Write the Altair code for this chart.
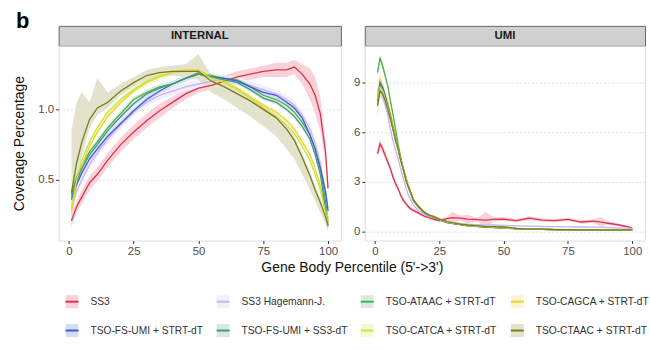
import altair as alt
import pandas as pd

FONT = "Liberation Sans"

SERIES = ["SS3", "SS3 Hagemann-J.", "TSO-ATAAC + STRT-dT", "TSO-CAGCA + STRT-dT",
          "TSO-FS-UMI + STRT-dT", "TSO-FS-UMI + SS3-dT", "TSO-CATCA + STRT-dT",
          "TSO-CTAAC + STRT-dT"]
COLORS = ["#e0314f", "#c9b3f5", "#4cae4c", "#f3d02a",
          "#3d5ed8", "#4a9488", "#c3e83a", "#7f7a1c"]
RIBBON_ALPHA = 0.22
PANEL_LETTER = "b"

X_TICKS = [0, 25, 50, 75, 100]
INT_Y_TICKS = [0.5, 1.0]
UMI_Y_TICKS = [0, 3, 6, 9]

# ---------------- INTERNAL panel ----------------
INT_X = [1, 3, 5, 8, 11, 15, 20, 25, 30, 35, 40, 45, 50, 55, 60, 65, 70, 75, 80, 84, 87, 90, 93, 95, 97, 99, 100]
INT_SS3 = [0.21, 0.31, 0.38, 0.48, 0.54, 0.64, 0.75, 0.84, 0.92, 0.99, 1.05, 1.11, 1.15, 1.17, 1.20, 1.23, 1.25, 1.27, 1.28, 1.28, 1.30, 1.25, 1.18, 1.10, 0.97, 0.70, 0.44]
INT_HAG = [0.30, 0.42, 0.50, 0.61, 0.69, 0.79, 0.89, 0.98, 1.05, 1.10, 1.13, 1.16, 1.18, 1.20, 1.21, 1.20, 1.17, 1.14, 1.11, 1.07, 1.03, 0.96, 0.86, 0.76, 0.62, 0.42, 0.30]
INT_ATAAC = [0.40, 0.52, 0.60, 0.70, 0.77, 0.87, 0.97, 1.07, 1.12, 1.16, 1.18, 1.22, 1.26, 1.24, 1.22, 1.21, 1.16, 1.10, 1.07, 1.03, 0.98, 0.91, 0.82, 0.72, 0.59, 0.35, 0.20]
INT_CAGCA = [0.27, 0.47, 0.60, 0.74, 0.84, 0.95, 1.05, 1.13, 1.19, 1.23, 1.26, 1.28, 1.28, 1.23, 1.20, 1.15, 1.09, 1.03, 0.98, 0.92, 0.86, 0.77, 0.68, 0.58, 0.46, 0.30, 0.23]
INT_FSSTRT = [0.36, 0.47, 0.55, 0.65, 0.72, 0.81, 0.90, 0.99, 1.07, 1.13, 1.18, 1.22, 1.25, 1.23, 1.22, 1.20, 1.16, 1.12, 1.10, 1.05, 1.01, 0.94, 0.82, 0.72, 0.58, 0.42, 0.28]
INT_FSSS3 = [0.38, 0.50, 0.58, 0.68, 0.75, 0.85, 0.95, 1.04, 1.11, 1.15, 1.18, 1.22, 1.25, 1.23, 1.21, 1.19, 1.14, 1.08, 1.05, 1.00, 0.95, 0.88, 0.79, 0.68, 0.54, 0.30, 0.17]
INT_CATCA = [0.30, 0.50, 0.64, 0.77, 0.87, 0.98, 1.07, 1.14, 1.20, 1.24, 1.26, 1.27, 1.27, 1.22, 1.19, 1.14, 1.08, 1.01, 0.95, 0.89, 0.83, 0.74, 0.64, 0.54, 0.43, 0.27, 0.20]
INT_CTAAC = [0.41, 0.62, 0.77, 0.93, 1.01, 1.05, 1.13, 1.19, 1.24, 1.26, 1.27, 1.27, 1.27, 1.20, 1.16, 1.11, 1.06, 1.00, 0.94, 0.86, 0.78, 0.66, 0.53, 0.43, 0.34, 0.24, 0.18]

INT_SD_SS3 = [0.04, 0.04, 0.05, 0.05, 0.05, 0.05, 0.05, 0.05, 0.05, 0.05, 0.04, 0.04, 0.03, 0.03, 0.04, 0.04, 0.04, 0.04, 0.05, 0.05, 0.05, 0.07, 0.11, 0.13, 0.12, 0.08, 0.05]
INT_SD_HAG = [0.02, 0.03, 0.03, 0.03, 0.03, 0.03, 0.03, 0.03, 0.03, 0.03, 0.03, 0.03, 0.03, 0.03, 0.03, 0.03, 0.03, 0.03, 0.03, 0.03, 0.03, 0.03, 0.03, 0.03, 0.03, 0.02, 0.02]
INT_SD_THIN = [0.02, 0.02, 0.02, 0.02, 0.02, 0.02, 0.02, 0.02, 0.02, 0.02, 0.02, 0.02, 0.02, 0.015, 0.015, 0.015, 0.015, 0.015, 0.015, 0.015, 0.015, 0.015, 0.015, 0.015, 0.015, 0.015, 0.015]
INT_LO_CTAAC = [0.25, 0.15, 0.10, 0.06, 0.05, 0.04, 0.03, 0.03, 0.03, 0.03, 0.03, 0.04, 0.06, 0.08, 0.09, 0.10, 0.11, 0.12, 0.13, 0.14, 0.13, 0.12, 0.10, 0.08, 0.07, 0.05, 0.05]
INT_HI_CTAAC = [0.44, 0.43, 0.35, 0.12, 0.21, 0.07, 0.05, 0.04, 0.04, 0.04, 0.04, 0.05, 0.12, 0.04, 0.03, 0.03, 0.03, 0.03, 0.03, 0.03, 0.03, 0.03, 0.03, 0.03, 0.03, 0.03, 0.03]

# ---------------- UMI panel ----------------
UMI_X = [1, 2, 3, 4, 5, 6, 7, 8, 9, 10, 11, 12, 13, 14, 15, 17, 19, 21, 23, 25, 28, 30, 33, 36, 40, 43, 46, 50, 55, 60, 65, 70, 75, 80, 85, 88, 90, 95, 100]
UMI_SS3 = [4.7, 5.3, 5.0, 4.6, 4.2, 3.8, 3.3, 2.9, 2.6, 2.2, 1.9, 1.7, 1.5, 1.36, 1.28, 1.12, 0.95, 0.84, 0.74, 0.66, 0.78, 0.85, 0.82, 0.76, 0.72, 0.70, 0.74, 0.76, 0.66, 0.82, 0.70, 0.66, 0.74, 0.58, 0.64, 0.58, 0.52, 0.40, 0.22]
UMI_HAG = [7.6, 8.6, 8.2, 7.6, 7.0, 6.2, 5.5, 4.9, 4.4, 3.8, 3.2, 2.7, 2.2, 1.9, 1.6, 1.25, 1.05, 0.92, 0.85, 0.75, 0.62, 0.55, 0.50, 0.45, 0.42, 0.40, 0.40, 0.38, 0.35, 0.33, 0.31, 0.30, 0.29, 0.28, 0.27, 0.26, 0.25, 0.23, 0.20]
UMI_ATAAC = [9.6, 10.5, 10.0, 9.4, 8.8, 7.9, 7.1, 6.2, 5.3, 4.5, 3.8, 3.3, 2.8, 2.3, 1.85, 1.45, 1.15, 1.0, 0.85, 0.72, 0.56, 0.50, 0.44, 0.36, 0.32, 0.30, 0.26, 0.22, 0.18, 0.15, 0.13, 0.12, 0.11, 0.10, 0.10, 0.10, 0.10, 0.10, 0.12]
UMI_CAGCA = [8.3, 9.2, 8.8, 8.3, 7.8, 7.2, 6.5, 5.8, 5.1, 4.4, 3.8, 3.3, 2.8, 2.3, 1.9, 1.5, 1.15, 1.0, 0.88, 0.74, 0.58, 0.52, 0.45, 0.38, 0.33, 0.30, 0.27, 0.24, 0.19, 0.16, 0.14, 0.13, 0.12, 0.11, 0.10, 0.10, 0.10, 0.10, 0.11]
UMI_FSSTRT = [8.0, 9.0, 8.7, 8.2, 7.6, 7.0, 6.3, 5.7, 5.0, 4.4, 3.8, 3.2, 2.7, 2.3, 1.9, 1.5, 1.15, 1.0, 0.86, 0.72, 0.56, 0.50, 0.44, 0.36, 0.32, 0.29, 0.26, 0.22, 0.18, 0.15, 0.13, 0.12, 0.11, 0.10, 0.10, 0.10, 0.10, 0.10, 0.11]
UMI_FSSS3 = [7.9, 8.8, 8.5, 8.0, 7.5, 6.9, 6.2, 5.6, 5.0, 4.4, 3.8, 3.2, 2.7, 2.3, 1.9, 1.5, 1.15, 1.0, 0.86, 0.72, 0.55, 0.50, 0.43, 0.35, 0.31, 0.28, 0.25, 0.21, 0.17, 0.14, 0.13, 0.12, 0.11, 0.10, 0.10, 0.10, 0.10, 0.10, 0.11]
UMI_CATCA = [8.0, 8.7, 8.5, 8.0, 7.5, 6.9, 6.3, 5.6, 5.0, 4.4, 3.8, 3.2, 2.8, 2.3, 1.9, 1.5, 1.2, 1.0, 0.88, 0.74, 0.57, 0.52, 0.45, 0.37, 0.32, 0.30, 0.27, 0.23, 0.18, 0.15, 0.14, 0.12, 0.11, 0.10, 0.10, 0.10, 0.10, 0.10, 0.11]
UMI_CTAAC = [7.6, 8.5, 8.3, 7.9, 7.4, 6.8, 6.2, 5.5, 5.0, 4.3, 3.8, 3.1, 2.7, 2.3, 1.9, 1.5, 1.2, 1.0, 0.9, 0.75, 0.60, 0.55, 0.45, 0.40, 0.35, 0.30, 0.30, 0.28, 0.20, 0.15, 0.15, 0.12, 0.12, 0.10, 0.10, 0.10, 0.10, 0.10, 0.10]

UMI_SD_SS3 = [0.25, 0.3, 0.25, 0.2, 0.2, 0.2, 0.2, 0.2, 0.15, 0.15, 0.15, 0.12, 0.12, 0.1, 0.1, 0.1, 0.1, 0.1, 0.1, 0.1, 0.12, 0.35, 0.15, 0.25, 0.12, 0.5, 0.15, 0.12, 0.1, 0.12, 0.1, 0.1, 0.1, 0.1, 0.1, 0.3, 0.1, 0.08, 0.06]
UMI_SD_CTAAC = [0.6, 0.4, 0.35, 0.3, 0.25, 0.2, 0.2, 0.2, 0.2, 0.2, 0.15, 0.15, 0.12, 0.1, 0.1, 0.1, 0.08, 0.08, 0.08, 0.08, 0.06, 0.06, 0.06, 0.06, 0.06, 0.06, 0.06, 0.06, 0.05, 0.05, 0.05, 0.05, 0.05, 0.05, 0.05, 0.05, 0.05, 0.05, 0.05]
UMI_SD_THIN = [0.2, 0.2, 0.2, 0.15, 0.15, 0.15, 0.12, 0.12, 0.12, 0.1, 0.1, 0.1, 0.08, 0.08, 0.08, 0.06, 0.06, 0.05, 0.05, 0.05, 0.04, 0.04, 0.04, 0.04, 0.03, 0.03, 0.03, 0.03, 0.03, 0.03, 0.03, 0.03, 0.03, 0.03, 0.03, 0.03, 0.03, 0.03, 0.03]


def tint(hexcol, a):
    r, g, b = (int(hexcol[i:i + 2], 16) for i in (1, 3, 5))
    mix = lambda c: round(255 - (255 - c) * a)
    return "#%02x%02x%02x" % (mix(r), mix(g), mix(b))


LIGHT = [tint(c, RIBBON_ALPHA) for c in COLORS]


def build(xs, table):
    recs = []
    for name, ys, lo, hi in table:
        assert len(ys) == len(xs) == len(lo) == len(hi), name
        for x, y, a, b in zip(xs, ys, lo, hi):
            recs.append({"series": name, "x": x, "y": y, "lo": y - a, "hi": y + b})
    return pd.DataFrame(recs)


int_df = build(INT_X, [
    (SERIES[0], INT_SS3, INT_SD_SS3, INT_SD_SS3),
    (SERIES[1], INT_HAG, INT_SD_HAG, INT_SD_HAG),
    (SERIES[2], INT_ATAAC, INT_SD_THIN, INT_SD_THIN),
    (SERIES[3], INT_CAGCA, INT_SD_THIN, INT_SD_THIN),
    (SERIES[4], INT_FSSTRT, INT_SD_THIN, INT_SD_THIN),
    (SERIES[5], INT_FSSS3, INT_SD_THIN, INT_SD_THIN),
    (SERIES[6], INT_CATCA, INT_SD_THIN, INT_SD_THIN),
    (SERIES[7], INT_CTAAC, INT_LO_CTAAC, INT_HI_CTAAC),
])
umi_df = build(UMI_X, [
    (SERIES[0], UMI_SS3, UMI_SD_SS3, UMI_SD_SS3),
    (SERIES[1], UMI_HAG, UMI_SD_THIN, UMI_SD_THIN),
    (SERIES[2], UMI_ATAAC, UMI_SD_THIN, UMI_SD_THIN),
    (SERIES[3], UMI_CAGCA, UMI_SD_THIN, UMI_SD_THIN),
    (SERIES[4], UMI_FSSTRT, UMI_SD_THIN, UMI_SD_THIN),
    (SERIES[5], UMI_FSSS3, UMI_SD_THIN, UMI_SD_THIN),
    (SERIES[6], UMI_CATCA, UMI_SD_THIN, UMI_SD_THIN),
    (SERIES[7], UMI_CTAAC, UMI_SD_CTAAC, UMI_SD_CTAAC),
])

# Key symbol: a pale square whose outline is dashed so that only the first
# (horizontal, middle) segment is stroked -> a line over a pale swatch.
KEY_PATH = "M-1,0H1V1H-1V-1H1V0"
legend = alt.Legend(
    title=None, orient="none", legendX=6, legendY=270, columns=4,
    direction="horizontal", symbolType=KEY_PATH, symbolSize=169,
    symbolStrokeWidth=2, symbolDash=[13, 200],
    labelFont=FONT, labelFontSize=10.3, labelColor="#333333",
    columnPadding=9, rowPadding=8, labelOffset=11, padding=0, labelLimit=300,
)

W_L, W_R, H, STRIP_H = 284, 282, 196, 20


def panel(df, width, ydom, yticks, yfmt, ytitle, xtitle):
    ax = dict(values=X_TICKS, grid=False, domain=False, tickSize=3,
              tickColor="#333333", labelColor="#4d4d4d", labelFontSize=11.5,
              labelFont=FONT, labelPadding=2)
    if xtitle:
        xaxis = alt.Axis(title=xtitle, titleX=295, titleFont=FONT, titleFontSize=14,
                         titleFontWeight="normal", titleColor="#111111", titlePadding=4, **ax)
    else:
        xaxis = alt.Axis(title=None, **ax)
    yargs = dict(values=yticks, format=yfmt, grid=True, gridDash=[2, 2],
                 gridColor="#d6d6d6", gridWidth=0.8, domain=False, tickSize=3,
                 tickColor="#333333", labelColor="#4d4d4d", labelFontSize=11.5,
                 labelFont=FONT, labelPadding=2)
    if ytitle:
        yaxis = alt.Axis(title=ytitle, titleFont=FONT, titleFontSize=14,
                         titleFontWeight="normal", titleColor="#111111", titlePadding=11, **yargs)
    else:
        yaxis = alt.Axis(title=None, **yargs)
    x = alt.X("x:Q", scale=alt.Scale(domain=[-3.95, 104.95], nice=False, zero=False), axis=xaxis)
    yscale = alt.Scale(domain=ydom, nice=False, zero=False)
    base = alt.Chart(df)
    band = base.mark_area(clip=True).encode(
        x=x,
        y=alt.Y("lo:Q", scale=yscale, axis=yaxis),
        y2="hi:Q",
        fill=alt.Fill("series:N", scale=alt.Scale(domain=SERIES, range=LIGHT), legend=legend),
    )
    line = base.mark_line(strokeWidth=1.3, clip=True).encode(
        x=x,
        y=alt.Y("y:Q", scale=yscale),
        stroke=alt.Stroke("series:N", scale=alt.Scale(domain=SERIES, range=COLORS), legend=legend),
    )
    return alt.layer(band, line).properties(width=width, height=H)


def strip(label, width, letter=None):
    layers = [alt.Chart(pd.DataFrame({"label": [label]})).mark_text(
        font=FONT, fontSize=11.5, fontWeight="bold", color="#1a1a1a", baseline="middle"
    ).encode(text="label:N")]
    if letter:
        # panel letter sitting to the upper left of the first strip
        layers.append(alt.Chart(pd.DataFrame({"label": [letter]})).mark_text(
            font=FONT, fontSize=22, fontWeight="bold", color="#000000",
            align="left", baseline="alphabetic", x=-43, y=2,
        ).encode(text="label:N"))
    return alt.layer(*layers).properties(
        width=width, height=STRIP_H,
        view=alt.ViewBackground(fill="#d0d0d0", stroke="#666666", strokeWidth=1),
    )


chart = alt.concat(
    strip("INTERNAL", W_L, PANEL_LETTER),
    strip("UMI", W_R),
    panel(int_df, W_L, [0.070, 1.451], INT_Y_TICKS, ".1f",
          "Coverage Percentage", "Gene Body Percentile (5'->3')"),
    panel(umi_df, W_R, [-0.54, 11.22], UMI_Y_TICKS, "d", None, None),
    columns=2, spacing={"row": 0, "column": 24}, bounds="flush", align="each",
).properties(
    padding={"left": 12, "top": 8, "right": 0, "bottom": 0},
).resolve_scale(y="independent").configure_view(
    stroke="#808080", strokeWidth=1
).configure(background="white")

chart.save("out.html", embed_options={"renderer": "svg", "actions": False})
